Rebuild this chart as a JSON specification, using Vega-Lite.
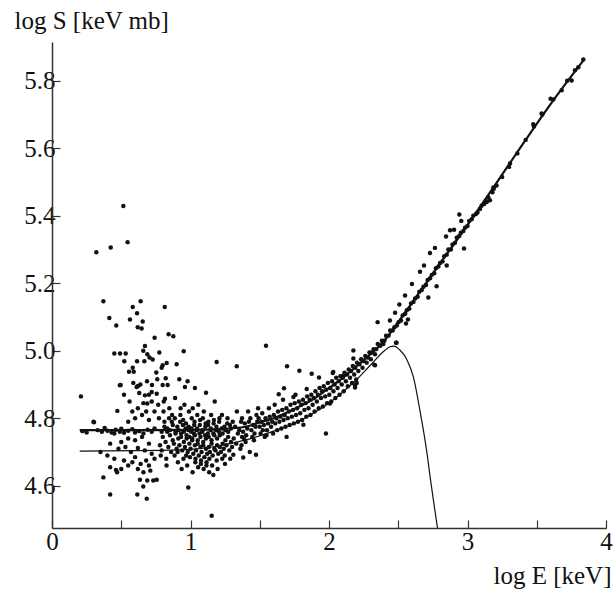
{
"$schema":"https://vega.github.io/schema/vega-lite/v6.json",
"width":554,"height":486,
"autosize":{"type":"none"},
"padding":{"left":52,"top":42,"right":7,"bottom":61},
"background":"white",
"config":{"view":{"stroke":null},
"axis":{"domainColor":"#333","domainWidth":1.5,"tickColor":"#333","tickWidth":1.2,"tickSize":-8,"labelFont":"Liberation Serif, Times New Roman, DejaVu Serif, serif","labelFontSize":25,"labelColor":"#111","titleFont":"Liberation Serif, Times New Roman, DejaVu Serif, serif","titleFontSize":25,"titleFontWeight":"normal","titleColor":"#111","grid":false}},
"datasets":{
"curves":[
{"c":"A","x":0.2,"y":4.765},{"c":"A","x":0.6,"y":4.765},{"c":"A","x":1.0,"y":4.766},{"c":"A","x":1.2,"y":4.768},{"c":"A","x":1.4,"y":4.775},{"c":"A","x":1.5,"y":4.788},{"c":"A","x":1.6,"y":4.8},{"c":"A","x":1.7,"y":4.818},{"c":"A","x":1.8,"y":4.838},{"c":"A","x":1.9,"y":4.86},{"c":"A","x":2.0,"y":4.89},{"c":"A","x":2.1,"y":4.92},{"c":"A","x":2.2,"y":4.955},{"c":"A","x":2.3,"y":4.99},{"c":"A","x":2.4,"y":5.03},{"c":"A","x":2.5,"y":5.085},{"c":"A","x":2.6,"y":5.143},{"c":"A","x":2.7,"y":5.2},{"c":"A","x":2.8,"y":5.258},{"c":"A","x":2.9,"y":5.315},{"c":"A","x":3.0,"y":5.373},{"c":"A","x":3.2,"y":5.492},{"c":"A","x":3.4,"y":5.613},{"c":"A","x":3.6,"y":5.731},{"c":"A","x":3.84,"y":5.862},
{"c":"B","x":0.2,"y":4.703},{"c":"B","x":0.8,"y":4.705},{"c":"B","x":1.0,"y":4.708},{"c":"B","x":1.2,"y":4.718},{"c":"B","x":1.4,"y":4.736},{"c":"B","x":1.6,"y":4.762},{"c":"B","x":1.8,"y":4.795},{"c":"B","x":1.9,"y":4.818},{"c":"B","x":2.0,"y":4.845},{"c":"B","x":2.1,"y":4.878},{"c":"B","x":2.2,"y":4.915},{"c":"B","x":2.3,"y":4.958},{"c":"B","x":2.4,"y":5.0},{"c":"B","x":2.44,"y":5.012},{"c":"B","x":2.47,"y":5.014},{"c":"B","x":2.51,"y":5.003},{"c":"B","x":2.56,"y":4.976},{"c":"B","x":2.61,"y":4.921},{"c":"B","x":2.657,"y":4.822},{"c":"B","x":2.705,"y":4.704},{"c":"B","x":2.734,"y":4.615},{"c":"B","x":2.76,"y":4.54},{"c":"B","x":2.787,"y":4.465}
],
"pts":[
{"x":0.515,"y":5.429},{"x":0.32,"y":5.292},{"x":0.424,"y":5.306},{"x":0.546,"y":5.322},{"x":0.371,"y":5.147},{"x":0.64,"y":5.147},{"x":0.583,"y":5.13},{"x":0.814,"y":5.13},{"x":0.614,"y":5.111},{"x":0.414,"y":5.097},{"x":0.563,"y":5.093},{"x":0.655,"y":5.087},{"x":0.464,"y":5.075},{"x":0.619,"y":5.07},{"x":0.647,"y":5.066},{"x":0.741,"y":5.039},{"x":0.842,"y":5.049},{"x":0.876,"y":5.043},{"x":0.671,"y":5.014},{"x":0.45,"y":4.992},{"x":0.491,"y":4.992},{"x":0.532,"y":4.992},{"x":0.659,"y":5.0},{"x":0.688,"y":4.99},{"x":0.775,"y":4.995},{"x":0.951,"y":4.999},{"x":0.704,"y":4.98},{"x":0.727,"y":4.974},{"x":0.522,"y":4.969},{"x":0.614,"y":4.969},{"x":0.667,"y":4.969},{"x":0.799,"y":4.957},{"x":0.828,"y":4.964},{"x":0.9,"y":4.96},{"x":1.189,"y":4.967},{"x":1.334,"y":4.954},{"x":0.583,"y":4.95},{"x":0.792,"y":4.95},{"x":0.556,"y":4.938},{"x":0.59,"y":4.938},{"x":0.753,"y":4.936},{"x":0.496,"y":4.899},{"x":0.587,"y":4.905},{"x":0.621,"y":4.896},{"x":0.638,"y":4.9},{"x":0.686,"y":4.91},{"x":0.722,"y":4.899},{"x":0.76,"y":4.916},{"x":0.799,"y":4.899},{"x":0.821,"y":4.919},{"x":0.835,"y":4.899},{"x":0.919,"y":4.916},{"x":0.96,"y":4.893},{"x":0.979,"y":4.91},{"x":1.032,"y":4.89},
{"x":0.209,"y":4.865},{"x":0.472,"y":4.822},{"x":0.303,"y":4.788},{"x":1.545,"y":5.015},{"x":1.697,"y":4.954},{"x":1.786,"y":4.941},{"x":1.875,"y":4.932},{"x":1.928,"y":4.921},{"x":2.027,"y":4.934},{"x":1.978,"y":4.755},{"x":1.112,"y":4.876},{"x":1.637,"y":4.871},{"x":1.675,"y":4.889},{"x":1.839,"y":4.887},{"x":1.743,"y":4.863},
{"x":2.176,"y":5.001},{"x":2.176,"y":4.977},{"x":2.332,"y":4.957},{"x":2.104,"y":4.927},{"x":1.165,"y":4.632},{"x":1.309,"y":4.692},{"x":1.381,"y":4.684},{"x":1.473,"y":4.692},{"x":1.694,"y":4.745},{"x":2.484,"y":5.024},{"x":1.815,"y":4.781},{"x":2.2,"y":4.905},{"x":2.188,"y":4.898},{"x":2.007,"y":4.844},
{"x":2.941,"y":5.404},{"x":2.955,"y":5.385},{"x":2.975,"y":5.303},{"x":2.845,"y":5.339},{"x":2.874,"y":5.357},{"x":2.903,"y":5.359},{"x":2.765,"y":5.305},{"x":2.729,"y":5.29},{"x":2.686,"y":5.253},{"x":2.657,"y":5.234},{"x":2.85,"y":5.253},{"x":2.777,"y":5.191},{"x":2.717,"y":5.158},{"x":2.599,"y":5.198},{"x":2.549,"y":5.164},{"x":2.508,"y":5.137},{"x":2.477,"y":5.113},{"x":2.44,"y":5.09},{"x":2.57,"y":5.093},{"x":2.556,"y":5.081},{"x":2.351,"y":5.085},{"x":2.488,"y":5.024},{"x":2.327,"y":4.959},{"x":2.188,"y":4.891},{"x":2.031,"y":4.937},
{"x":3.187,"y":5.484},{"x":3.307,"y":5.555},{"x":3.162,"y":5.446},{"x":3.139,"y":5.441},
{"x":3.836,"y":5.863},{"x":3.776,"y":5.831},{"x":3.752,"y":5.801},{"x":3.68,"y":5.772},{"x":3.6,"y":5.747},{"x":3.535,"y":5.703},{"x":3.475,"y":5.671},
{"x":0.371,"y":4.625},{"x":0.42,"y":4.574},{"x":0.616,"y":4.574},{"x":0.684,"y":4.562},{"x":0.462,"y":4.647},{"x":0.635,"y":4.618},{"x":0.659,"y":4.598},{"x":0.688,"y":4.616},{"x":0.731,"y":4.616},{"x":0.756,"y":4.618},{"x":0.984,"y":4.595},{"x":1.153,"y":4.511},
{"x":0.49,"y":4.898},{"x":0.611,"y":4.893},{"x":0.671,"y":4.868},{"x":0.688,"y":4.844},{"x":0.756,"y":4.873},{"x":0.816,"y":4.858},{"x":0.72,"y":4.878},
{"x":0.22,"y":4.762},{"x":0.25,"y":4.758},{"x":0.3,"y":4.79},{"x":0.33,"y":4.765},{"x":0.36,"y":4.76},{"x":0.4,"y":4.763},{"x":0.43,"y":4.758},{"x":0.46,"y":4.766},{"x":0.49,"y":4.76},{"x":0.52,"y":4.757},{"x":0.55,"y":4.763},{"x":0.58,"y":4.768},{"x":0.6,"y":4.758},{"x":0.63,"y":4.762},{"x":0.66,"y":4.755},{"x":0.69,"y":4.766},{"x":0.72,"y":4.76},{"x":0.74,"y":4.77},{"x":0.38,"y":4.771},{"x":0.45,"y":4.755},{"x":0.5,"y":4.769},
{"x":0.42,"y":4.725},{"x":0.5,"y":4.73},{"x":0.55,"y":4.74},{"x":0.6,"y":4.735},{"x":0.65,"y":4.745},{"x":0.7,"y":4.725},{"x":0.48,"y":4.71},{"x":0.53,"y":4.715},{"x":0.57,"y":4.7},{"x":0.62,"y":4.712},{"x":0.67,"y":4.705},{"x":0.72,"y":4.695},{"x":0.45,"y":4.68},{"x":0.52,"y":4.675},{"x":0.58,"y":4.67},{"x":0.6,"y":4.685},{"x":0.64,"y":4.665},{"x":0.68,"y":4.675},{"x":0.7,"y":4.66},{"x":0.74,"y":4.68},{"x":0.5,"y":4.65},{"x":0.55,"y":4.66},{"x":0.62,"y":4.65},{"x":0.66,"y":4.64},{"x":0.71,"y":4.645},{"x":0.4,"y":4.69},{"x":0.35,"y":4.7},{"x":0.47,"y":4.64},{"x":0.42,"y":4.655},
{"x":0.55,"y":4.79},{"x":0.6,"y":4.8},{"x":0.65,"y":4.81},{"x":0.7,"y":4.795},{"x":0.62,"y":4.83},{"x":0.68,"y":4.82},{"x":0.72,"y":4.85},{"x":0.58,"y":4.82},{"x":0.66,"y":4.845},{"x":0.74,"y":4.82},{"x":0.7,"y":4.87},{"x":0.63,"y":4.875},{"x":0.56,"y":4.85},{"x":0.52,"y":4.87},
{"x":0.78,"y":4.72},{"x":0.792,"y":4.76},{"x":0.772,"y":4.8},{"x":0.785,"y":4.69},{"x":0.767,"y":4.84},
{"x":0.8,"y":4.745},{"x":0.812,"y":4.775},{"x":0.792,"y":4.705},{"x":0.805,"y":4.82},
{"x":0.82,"y":4.73},{"x":0.832,"y":4.76},{"x":0.812,"y":4.79},{"x":0.825,"y":4.68},{"x":0.807,"y":4.85},
{"x":0.84,"y":4.715},{"x":0.852,"y":4.75},{"x":0.832,"y":4.77},{"x":0.845,"y":4.8},{"x":0.827,"y":4.66},
{"x":0.86,"y":4.7},{"x":0.872,"y":4.735},{"x":0.852,"y":4.765},{"x":0.865,"y":4.79},{"x":0.847,"y":4.83},
{"x":0.88,"y":4.725},{"x":0.892,"y":4.755},{"x":0.872,"y":4.78},{"x":0.885,"y":4.69},{"x":0.867,"y":4.81},{"x":0.889,"y":4.86},
{"x":0.9,"y":4.71},{"x":0.912,"y":4.74},{"x":0.892,"y":4.76},{"x":0.905,"y":4.775},{"x":0.887,"y":4.8},{"x":0.909,"y":4.67},
{"x":0.92,"y":4.72},{"x":0.932,"y":4.745},{"x":0.912,"y":4.765},{"x":0.925,"y":4.79},{"x":0.907,"y":4.7},{"x":0.929,"y":4.83},
{"x":0.94,"y":4.705},{"x":0.952,"y":4.73},{"x":0.932,"y":4.755},{"x":0.945,"y":4.78},{"x":0.927,"y":4.81},{"x":0.949,"y":4.68},{"x":0.936,"y":4.65},
{"x":0.96,"y":4.715},{"x":0.972,"y":4.74},{"x":0.952,"y":4.76},{"x":0.965,"y":4.77},{"x":0.947,"y":4.795},{"x":0.969,"y":4.69},{"x":0.956,"y":4.84},
{"x":0.98,"y":4.7},{"x":0.992,"y":4.725},{"x":0.972,"y":4.75},{"x":0.985,"y":4.765},{"x":0.967,"y":4.785},{"x":0.989,"y":4.82},{"x":0.976,"y":4.66},
{"x":1.0,"y":4.71},{"x":1.012,"y":4.735},{"x":0.992,"y":4.745},{"x":1.005,"y":4.76},{"x":0.987,"y":4.775},{"x":1.009,"y":4.8},{"x":0.996,"y":4.685},{"x":1.015,"y":4.64},
{"x":1.02,"y":4.695},{"x":1.032,"y":4.72},{"x":1.012,"y":4.74},{"x":1.025,"y":4.755},{"x":1.007,"y":4.77},{"x":1.029,"y":4.79},{"x":1.016,"y":4.83},{"x":1.035,"y":4.67},
{"x":1.04,"y":4.705},{"x":1.052,"y":4.725},{"x":1.032,"y":4.75},{"x":1.045,"y":4.765},{"x":1.027,"y":4.78},{"x":1.049,"y":4.81},{"x":1.036,"y":4.68},{"x":1.055,"y":4.655},
{"x":1.06,"y":4.69},{"x":1.072,"y":4.715},{"x":1.052,"y":4.735},{"x":1.065,"y":4.755},{"x":1.047,"y":4.77},{"x":1.069,"y":4.795},{"x":1.056,"y":4.84},{"x":1.075,"y":4.665},
{"x":1.08,"y":4.7},{"x":1.092,"y":4.72},{"x":1.072,"y":4.745},{"x":1.085,"y":4.76},{"x":1.067,"y":4.78},{"x":1.089,"y":4.8},{"x":1.076,"y":4.675},{"x":1.095,"y":4.65},
{"x":1.1,"y":4.685},{"x":1.112,"y":4.71},{"x":1.092,"y":4.73},{"x":1.105,"y":4.75},{"x":1.087,"y":4.765},{"x":1.109,"y":4.785},{"x":1.096,"y":4.82},{"x":1.115,"y":4.66},
{"x":1.12,"y":4.695},{"x":1.132,"y":4.715},{"x":1.112,"y":4.74},{"x":1.125,"y":4.755},{"x":1.107,"y":4.775},{"x":1.129,"y":4.79},{"x":1.116,"y":4.67},{"x":1.135,"y":4.64},
{"x":1.14,"y":4.7},{"x":1.152,"y":4.725},{"x":1.132,"y":4.745},{"x":1.145,"y":4.765},{"x":1.127,"y":4.78},{"x":1.149,"y":4.81},{"x":1.136,"y":4.68},
{"x":1.16,"y":4.69},{"x":1.172,"y":4.71},{"x":1.152,"y":4.735},{"x":1.165,"y":4.755},{"x":1.147,"y":4.77},{"x":1.169,"y":4.795},{"x":1.156,"y":4.66},{"x":1.175,"y":4.85},
{"x":1.18,"y":4.705},{"x":1.192,"y":4.72},{"x":1.172,"y":4.75},{"x":1.185,"y":4.765},{"x":1.167,"y":4.785},{"x":1.189,"y":4.675},
{"x":1.2,"y":4.695},{"x":1.212,"y":4.715},{"x":1.192,"y":4.74},{"x":1.205,"y":4.76},{"x":1.187,"y":4.775},{"x":1.209,"y":4.8},{"x":1.196,"y":4.65},
{"x":1.22,"y":4.7},{"x":1.232,"y":4.725},{"x":1.212,"y":4.75},{"x":1.225,"y":4.77},{"x":1.207,"y":4.79},{"x":1.229,"y":4.68},
{"x":1.24,"y":4.71},{"x":1.252,"y":4.735},{"x":1.232,"y":4.755},{"x":1.245,"y":4.775},{"x":1.227,"y":4.81},{"x":1.249,"y":4.665},
{"x":1.26,"y":4.72},{"x":1.272,"y":4.745},{"x":1.252,"y":4.765},{"x":1.265,"y":4.785},{"x":1.247,"y":4.69},
{"x":1.28,"y":4.705},{"x":1.292,"y":4.73},{"x":1.272,"y":4.76},{"x":1.285,"y":4.78},{"x":1.267,"y":4.8},
{"x":1.3,"y":4.715},{"x":1.312,"y":4.74},{"x":1.292,"y":4.77},{"x":1.305,"y":4.79},{"x":1.287,"y":4.68},
{"x":1.33,"y":4.725},{"x":1.342,"y":4.755},{"x":1.322,"y":4.775},{"x":1.335,"y":4.82},
{"x":1.36,"y":4.71},{"x":1.372,"y":4.745},{"x":1.352,"y":4.765},{"x":1.365,"y":4.79},
{"x":1.38,"y":4.76},{"x":1.392,"y":4.785},{"x":1.372,"y":4.8},{"x":1.386,"y":4.74},{"x":1.368,"y":4.72},
{"x":1.41,"y":4.77},{"x":1.422,"y":4.79},{"x":1.402,"y":4.75},{"x":1.416,"y":4.82},{"x":1.398,"y":4.73},
{"x":1.44,"y":4.765},{"x":1.452,"y":4.78},{"x":1.432,"y":4.8},{"x":1.446,"y":4.745},{"x":1.428,"y":4.7},
{"x":1.47,"y":4.775},{"x":1.482,"y":4.79},{"x":1.462,"y":4.755},{"x":1.476,"y":4.81},{"x":1.458,"y":4.735},
{"x":1.5,"y":4.775},{"x":1.512,"y":4.79},{"x":1.492,"y":4.8},{"x":1.506,"y":4.755},{"x":1.488,"y":4.83},
{"x":1.53,"y":4.78},{"x":1.542,"y":4.8},{"x":1.522,"y":4.765},{"x":1.536,"y":4.745},{"x":1.518,"y":4.815},
{"x":1.56,"y":4.785},{"x":1.572,"y":4.805},{"x":1.552,"y":4.765},{"x":1.566,"y":4.83},{"x":1.548,"y":4.75},
{"x":1.59,"y":4.79},{"x":1.602,"y":4.81},{"x":1.582,"y":4.775},{"x":1.596,"y":4.755},
{"x":1.62,"y":4.8},{"x":1.632,"y":4.82},{"x":1.612,"y":4.785},{"x":1.626,"y":4.765},{"x":1.608,"y":4.84},
{"x":1.65,"y":4.805},{"x":1.662,"y":4.825},{"x":1.642,"y":4.79},{"x":1.656,"y":4.77},
{"x":1.68,"y":4.81},{"x":1.692,"y":4.83},{"x":1.672,"y":4.795},{"x":1.686,"y":4.775},{"x":1.668,"y":4.855},
{"x":1.71,"y":4.82},{"x":1.722,"y":4.84},{"x":1.702,"y":4.8},{"x":1.716,"y":4.78},
{"x":1.74,"y":4.825},{"x":1.752,"y":4.845},{"x":1.732,"y":4.805},{"x":1.746,"y":4.785},
{"x":1.77,"y":4.83},{"x":1.782,"y":4.85},{"x":1.762,"y":4.81},{"x":1.776,"y":4.79},{"x":1.758,"y":4.87},
{"x":1.8,"y":4.84},{"x":1.812,"y":4.855},{"x":1.792,"y":4.815},{"x":1.806,"y":4.795},
{"x":1.83,"y":4.845},{"x":1.842,"y":4.865},{"x":1.822,"y":4.825},{"x":1.836,"y":4.805},
{"x":1.86,"y":4.855},{"x":1.872,"y":4.87},{"x":1.852,"y":4.83},{"x":1.866,"y":4.81},
{"x":1.89,"y":4.86},{"x":1.902,"y":4.88},{"x":1.882,"y":4.84},{"x":1.896,"y":4.82},
{"x":1.92,"y":4.87},{"x":1.932,"y":4.89},{"x":1.912,"y":4.85},{"x":1.926,"y":4.83},
{"x":1.95,"y":4.88},{"x":1.962,"y":4.895},{"x":1.942,"y":4.86},{"x":1.956,"y":4.835},
{"x":1.98,"y":4.885},{"x":1.992,"y":4.905},{"x":1.972,"y":4.865},{"x":1.986,"y":4.845},
{"x":2.01,"y":4.89},{"x":2.022,"y":4.91},{"x":2.002,"y":4.87},{"x":2.016,"y":4.85},
{"x":2.04,"y":4.9},{"x":2.052,"y":4.92},{"x":2.032,"y":4.88},{"x":2.046,"y":4.86},
{"x":2.07,"y":4.91},{"x":2.082,"y":4.925},{"x":2.062,"y":4.89},{"x":2.076,"y":4.87},
{"x":2.1,"y":4.92},{"x":2.112,"y":4.935},{"x":2.092,"y":4.9},{"x":2.106,"y":4.88},
{"x":2.13,"y":4.93},{"x":2.142,"y":4.945},{"x":2.122,"y":4.91},{"x":2.136,"y":4.895},
{"x":2.16,"y":4.94},{"x":2.172,"y":4.955},{"x":2.152,"y":4.92},{"x":2.166,"y":4.905},
{"x":2.19,"y":4.95},{"x":2.202,"y":4.965},{"x":2.182,"y":4.93},{"x":2.196,"y":4.915},
{"x":2.22,"y":4.96},{"x":2.232,"y":4.975},{"x":2.212,"y":4.94},
{"x":2.25,"y":4.97},{"x":2.262,"y":4.985},{"x":2.242,"y":4.95},
{"x":2.28,"y":4.98},{"x":2.292,"y":4.995},{"x":2.272,"y":4.965},
{"x":2.31,"y":4.995},{"x":2.322,"y":5.005},{"x":2.302,"y":4.975},
{"x":2.34,"y":5.005},{"x":2.352,"y":5.02},{"x":2.332,"y":4.99},
{"x":2.37,"y":5.015},{"x":2.382,"y":5.03},
{"x":2.4,"y":5.03},{"x":2.412,"y":5.045},{"x":2.392,"y":5.02},
{"x":2.43,"y":5.045},{"x":2.442,"y":5.06},
{"x":2.46,"y":5.06},{"x":2.472,"y":5.07},
{"x":2.49,"y":5.075},{"x":2.502,"y":5.085},
{"x":2.52,"y":5.09},{"x":2.532,"y":5.105},
{"x":2.55,"y":5.11},{"x":2.562,"y":5.12},
{"x":2.58,"y":5.125},{"x":2.592,"y":5.14},
{"x":2.61,"y":5.145},{"x":2.622,"y":5.155},
{"x":2.64,"y":5.16},{"x":2.652,"y":5.175},
{"x":2.67,"y":5.18},{"x":2.682,"y":5.19},
{"x":2.7,"y":5.195},{"x":2.712,"y":5.21},
{"x":2.73,"y":5.215},{"x":2.742,"y":5.225},
{"x":2.76,"y":5.23},{"x":2.772,"y":5.245},
{"x":2.79,"y":5.25},{"x":2.802,"y":5.26},
{"x":2.82,"y":5.265},{"x":2.832,"y":5.28},
{"x":2.85,"y":5.285},{"x":2.862,"y":5.3},
{"x":2.88,"y":5.3},{"x":2.892,"y":5.315},
{"x":2.91,"y":5.32},{"x":2.922,"y":5.335},
{"x":2.94,"y":5.34},{"x":2.952,"y":5.35},
{"x":2.97,"y":5.355},{"x":2.982,"y":5.365},
{"x":3.0,"y":5.37},{"x":3.012,"y":5.385},
{"x":3.03,"y":5.39},{"x":3.042,"y":5.4},
{"x":3.06,"y":5.405},{"x":3.072,"y":5.41},
{"x":3.09,"y":5.42},{"x":3.102,"y":5.43},
{"x":3.12,"y":5.435},{"x":3.132,"y":5.445},
{"x":3.15,"y":5.455},{"x":3.18,"y":5.47},{"x":3.19,"y":5.48},{"x":3.21,"y":5.49},{"x":3.25,"y":5.515},{"x":3.3,"y":5.545},{"x":3.36,"y":5.585},{"x":3.42,"y":5.625},{"x":3.48,"y":5.665},{"x":3.54,"y":5.7},{"x":3.62,"y":5.745},{"x":3.72,"y":5.8},{"x":3.8,"y":5.84}
]},
"layer":[
{"data":{"name":"pts"},"mark":{"type":"point","filled":true,"shape":"circle","size":20,"color":"#111","opacity":1},
"encoding":{
"x":{"field":"x","type":"quantitative","scale":{"domain":[0,4],"nice":false,"zero":false},
"axis":{"values":[0,0.5,1,1.5,2,2.5,3,3.5,4],"labelExpr":"datum.value % 1 == 0 ? format(datum.value,'d') : ''","labelPadding":9,"labelFlush":false,"title":"log E [keV]","titleAnchor":"end","titleAlign":"right","titleBaseline":"alphabetic","titleX":559,"titleY":55}},
"y":{"field":"y","type":"quantitative","scale":{"domain":[4.475,5.915],"nice":false,"zero":false},
"axis":{"values":[4.6,4.8,5.0,5.2,5.4,5.6,5.8],"format":".1f","labelPadding":5,"labelFlush":false,"title":"log S [keV mb]","titleAngle":0,"titleAlign":"left","titleBaseline":"alphabetic","titleX":-38,"titleY":-14}}}},
{"data":{"name":"curves"},"transform":[{"filter":"datum.c == 'A'"}],"mark":{"type":"line","interpolate":"monotone","color":"#111","strokeWidth":2.2,"clip":true},
"encoding":{"x":{"field":"x","type":"quantitative"},"y":{"field":"y","type":"quantitative"}}},
{"data":{"name":"curves"},"transform":[{"filter":"datum.c == 'B'"}],"mark":{"type":"line","interpolate":"monotone","color":"#111","strokeWidth":1.2,"clip":true},
"encoding":{"x":{"field":"x","type":"quantitative"},"y":{"field":"y","type":"quantitative"}}}
]
}
